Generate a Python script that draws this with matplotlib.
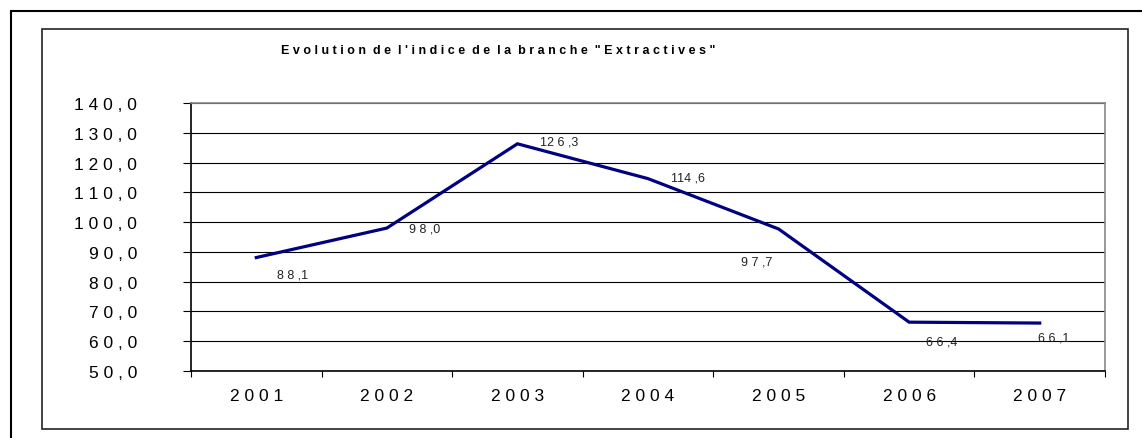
import matplotlib.pyplot as plt
from matplotlib.patches import Rectangle
from matplotlib.ticker import FixedLocator

years = ["2001", "2002", "2003", "2004", "2005", "2006", "2007"]
indice = [88.1, 98.0, 126.3, 114.6, 97.7, 66.4, 66.1]
labels = ["8 8 ,1", "9 8 ,0", "12 6 ,3", "114 ,6", "9 7 ,7", "6 6 ,4", "6 6 ,1"]
# label offsets in pixels (dx right, dy down)
offsets = [(36, 17), (38, 0), (42, -2), (40, -1), (-22, 33), (33, 19), (14, 14)]

title = "Evolution de l'indice de la branche \"Extractives\""


def spaced(s):
    return " ".join(s)


W, H = 1142, 439
fig = plt.figure(figsize=(W / 100, H / 100), dpi=100)
plt.rcParams["font.family"] = ["Liberation Sans", "DejaVu Sans"]

# frames
fig.patches.append(Rectangle((11 / W, -0.1), 1.2, 1 - 12 / H + 0.1,
                             transform=fig.transFigure, fill=False,
                             edgecolor="black", linewidth=1.5))
fig.patches.append(Rectangle((42 / W, 1 - 430 / H), (1128 - 42) / W, 400 / H,
                             transform=fig.transFigure, fill=False,
                             edgecolor="#222222", linewidth=1.2))

ax = fig.add_axes([191 / W, 1 - 372 / H, (1105 - 191) / W, (372 - 104) / H])
x = list(range(len(years)))
ax.plot(x, indice, color="#000080", linewidth=2.3, solid_joinstyle="miter")

ax.set_xlim(-0.5, len(years) - 0.5)
ax.set_ylim(50, 140)
yt = list(range(50, 141, 10))
ax.set_yticks(yt)
ax.set_yticklabels([spaced(f"{v:.1f}".replace(".", ",")) for v in yt], fontsize=12.5)
ax.yaxis.grid(True, color="black", linewidth=0.8)
ax.tick_params(axis="y", length=5.8, width=0.8, pad=33, colors="black")

ax.set_xticks(x)
ax.set_xticklabels([spaced(y) for y in years], fontsize=12.5)
ax.xaxis.set_minor_locator(FixedLocator([i - 0.5 for i in range(len(years) + 1)]))
ax.tick_params(axis="x", which="major", length=0, pad=12)
ax.tick_params(axis="x", which="minor", length=4.3, width=0.8)

for s in ["left", "bottom"]:
    ax.spines[s].set_color("black")
    ax.spines[s].set_linewidth(1.2)
for s in ["top", "right"]:
    ax.spines[s].set_color("#888888")
    ax.spines[s].set_linewidth(1.2)

for xi, v, lab, (dx, dy) in zip(x, indice, labels, offsets):
    ax.annotate(lab, (xi, v), xytext=(dx * 0.72, -dy * 0.72),
                textcoords="offset points", ha="center", va="center",
                fontsize=9, color="#222222")

fig.text(498 / W, 1 - 51 / H, spaced(title).replace("   ", "  "),
         ha="center", va="center", fontsize=9, fontweight="bold")

fig.savefig("out.png", dpi=100)
